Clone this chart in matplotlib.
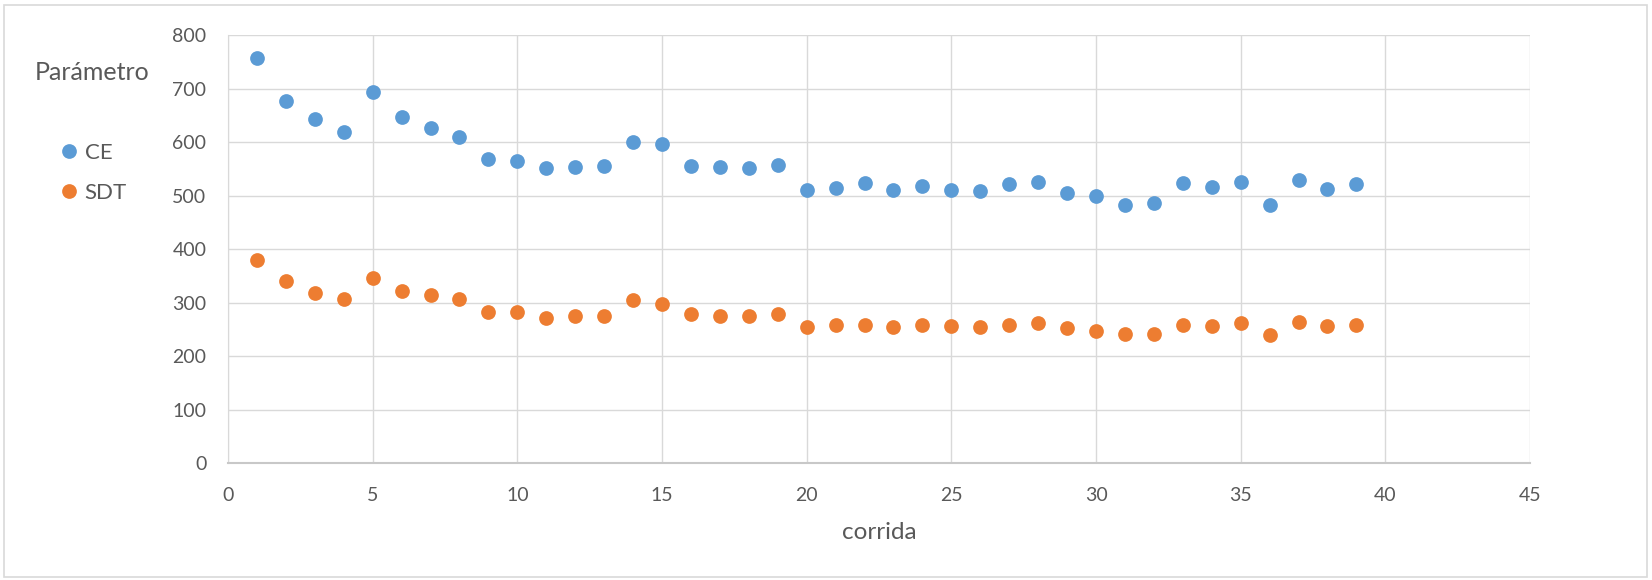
import matplotlib
matplotlib.use("Agg")
import matplotlib.pyplot as plt
from matplotlib.patches import Rectangle

# Run number and the two measured parameters per run
corrida = list(range(1, 40))
ce = [757, 676, 643, 618, 693, 647, 626, 609, 568, 565,
      551, 554, 556, 601, 597, 556, 554, 551, 558, 510,
      515, 523, 510, 518, 510, 508, 521, 525, 504, 499,
      482, 487, 523, 516, 525, 482, 529, 513, 521]
sdt = [379, 341, 319, 307, 347, 321, 314, 307, 283, 283,
       271, 276, 276, 305, 298, 278, 276, 276, 278, 254,
       259, 259, 254, 259, 257, 254, 259, 262, 252, 247,
       242, 242, 259, 257, 262, 240, 264, 257, 259]

x_ticks = [0, 5, 10, 15, 20, 25, 30, 35, 40, 45]
y_ticks = [0, 100, 200, 300, 400, 500, 600, 700, 800]

BLUE = "#5B9BD5"
ORANGE = "#ED7D31"
GRID = "#D9D9D9"
TEXT = "#595959"
FONT = ["Lato", "DejaVu Sans"]

plt.rcParams["font.family"] = FONT

fig = plt.figure(figsize=(16.52, 5.80), dpi=100)
fig.patch.set_facecolor("white")

# Thin frame around the whole chart area
fig.patches.append(Rectangle((4 / 1652, 3 / 580), 1643 / 1652, 572 / 580,
                             transform=fig.transFigure, fill=False,
                             edgecolor=GRID, linewidth=1.2))

ax = fig.add_axes([228 / 1652, 1 - 463.3 / 580, (1530 - 228) / 1652, (463.3 - 35) / 580])

h_ce, = ax.plot(corrida, ce, linestyle="none", marker="o", markersize=10.6,
                markeredgewidth=0, color=BLUE, label="CE", zorder=3)
h_sdt, = ax.plot(corrida, sdt, linestyle="none", marker="o", markersize=10.6,
                 markeredgewidth=0, color=ORANGE, label="SDT", zorder=3)

ax.set_xlim(0, 45)
ax.set_ylim(0, 800)
ax.set_xticks(x_ticks)
ax.set_yticks(y_ticks)
ax.grid(True, color=GRID, linewidth=1.0)
ax.set_axisbelow(True)

for side in ("top", "right"):
    ax.spines[side].set_visible(False)
ax.spines["left"].set_color(GRID)
ax.spines["bottom"].set_color("#C8C8C8")
ax.spines["bottom"].set_linewidth(1.5)

ax.tick_params(axis="both", length=0, labelsize=14, labelcolor=TEXT)
ax.tick_params(axis="y", pad=15.5)
ax.tick_params(axis="x", pad=17)

ax.set_xlabel("corrida", fontsize=17.5, color=TEXT, labelpad=13)

fig.text(35 / 1652, 1 - 73 / 580, "Parámetro", fontsize=18, color=TEXT,
         ha="left", va="center")

fig.legend(handles=[h_ce, h_sdt], loc="center left",
           bbox_to_anchor=(58 / 1652, 1 - 173 / 580), frameon=False,
           fontsize=16, labelcolor=TEXT, handlelength=1.0, handletextpad=0.2,
           borderpad=0, borderaxespad=0, labelspacing=0.9, markerscale=1.0)

fig.savefig("out.png", dpi=100, facecolor="white")
